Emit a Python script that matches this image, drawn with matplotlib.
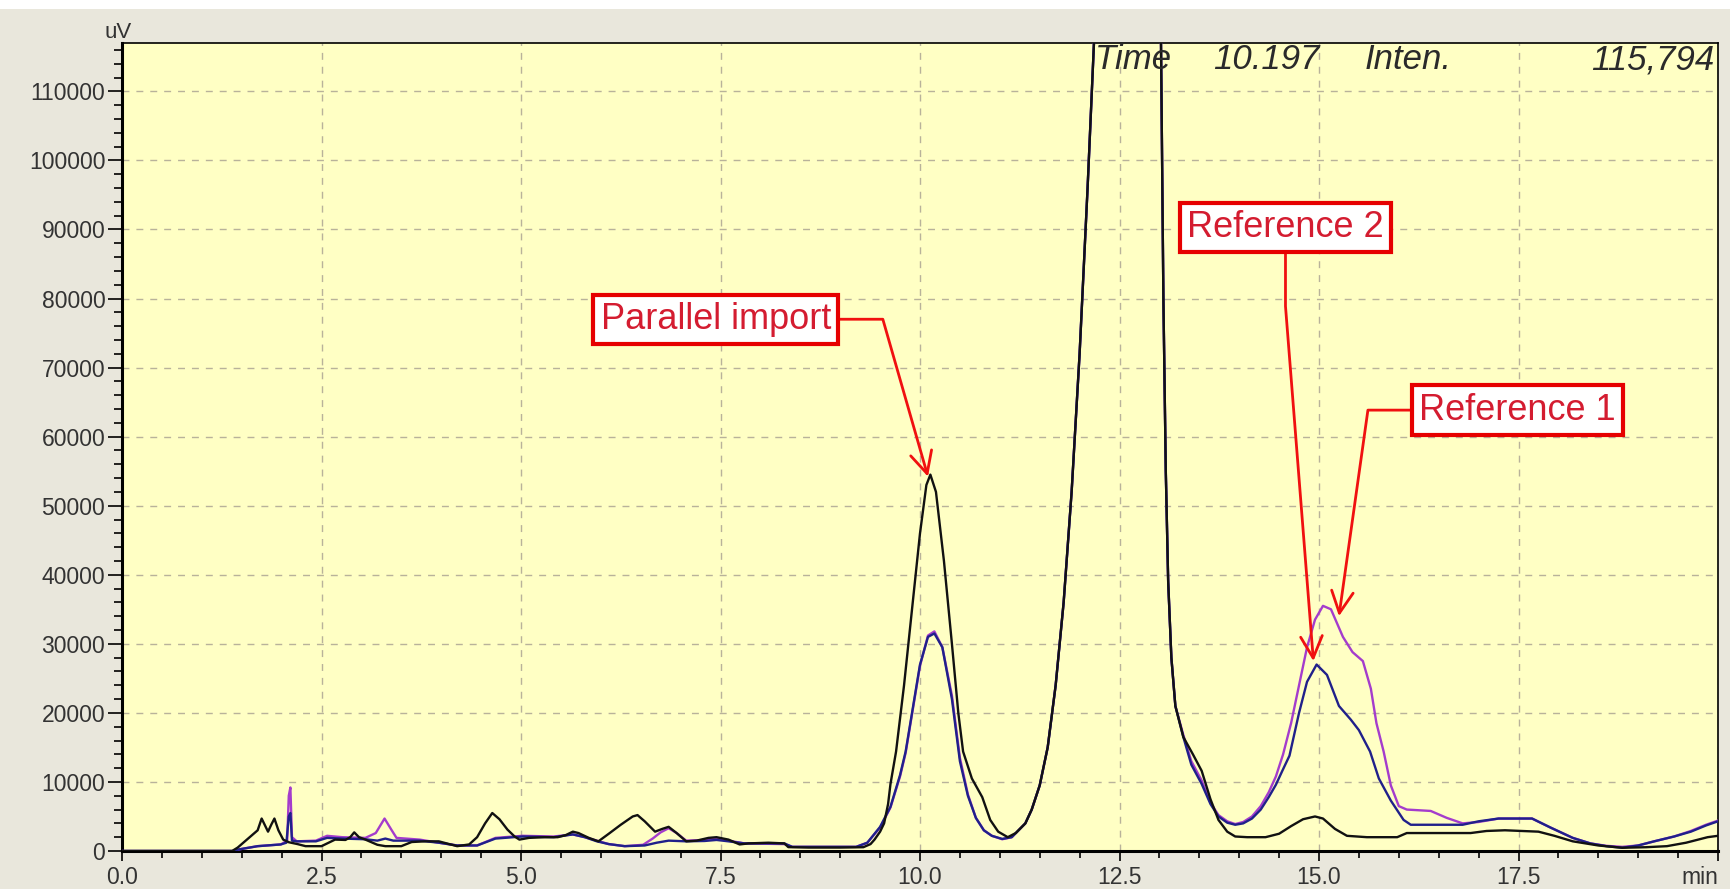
import matplotlib.pyplot as plt
from matplotlib.ticker import MultipleLocator
from matplotlib.patches import Rectangle
import numpy as np

plt.rcParams['font.family'] = ['Liberation Sans', 'DejaVu Sans']

#DATA---------------------------------------------------------
# Parallel import (black trace), before the big peak
black_pre_t = [0.0, 1.38, 1.45, 1.55, 1.62, 1.70, 1.75, 1.80, 1.83, 1.87, 1.91, 1.96, 2.02, 2.09,
               2.20, 2.30, 2.50, 2.67, 2.80, 2.86, 2.91, 2.97, 3.05, 3.20, 3.30, 3.50, 3.63, 3.80,
               3.97, 4.10, 4.20, 4.35, 4.45, 4.55, 4.64, 4.73, 4.83, 4.92, 4.98, 5.10, 5.30, 5.46,
               5.56, 5.65, 5.72, 5.85, 5.97, 6.10, 6.25, 6.40, 6.46, 6.55, 6.68, 6.77, 6.85, 6.95,
               7.07, 7.20, 7.35, 7.45, 7.60, 7.74, 7.85, 8.10, 8.30, 8.35, 8.60, 9.00, 9.29, 9.38,
               9.43, 9.50, 9.55, 9.60, 9.63, 9.70, 9.80, 9.90, 10.00, 10.08, 10.13, 10.20, 10.30,
               10.40, 10.48, 10.54, 10.65, 10.78, 10.88, 10.98, 11.10, 11.20, 11.32]
black_pre_y = [0, 0, 500, 1500, 2200, 3000, 4700, 3500, 2800, 3800, 4700, 3000, 1650, 1270,
               1000, 700, 700, 1650, 1600, 2000, 2700, 2000, 1650, 900, 700, 700, 1300, 1400,
               1400, 1000, 700, 950, 2000, 4000, 5500, 4600, 3100, 2100, 1650, 1900, 2000, 2000,
               2300, 2800, 2600, 1900, 1400, 2500, 3800, 5000, 5200, 4300, 2800, 3200, 3500, 2600,
               1400, 1500, 1900, 2000, 1650, 950, 1100, 1200, 1100, 560, 500, 500, 550, 1000,
               1650, 2800, 4000, 6800, 9700, 14400, 24000, 35000, 46000, 53000, 54500, 52000, 42000,
               30000, 20000, 14400, 10500, 7800, 4500, 2800, 2000, 2600, 4000]
black_post_t = [13.30, 13.42, 13.53, 13.64, 13.74, 13.85, 13.95, 14.10, 14.33, 14.50, 14.65, 14.80,
                14.95, 15.05, 15.20, 15.35, 15.60, 15.98, 16.10, 16.90, 17.10, 17.33, 17.75, 17.95,
                18.18, 18.50, 18.80, 19.10, 19.36, 19.60, 19.87, 20.00]
black_post_y = [16500, 14000, 11600, 7500, 4500, 2800, 2100, 2000, 2000, 2500, 3600, 4600,
                5000, 4700, 3200, 2200, 2000, 2000, 2600, 2600, 2900, 3000, 2800, 2200,
                1400, 800, 470, 550, 700, 1200, 2000, 2200]

# Reference 2 (blue trace)
blue_pre_t = [0.0, 1.40, 1.47, 1.70, 1.99, 2.06, 2.09, 2.11, 2.13, 2.19, 2.43, 2.57, 2.76, 3.05,
              3.20, 3.30, 3.40, 3.73, 3.97, 4.20, 4.45, 4.68, 5.02, 5.41, 5.65, 5.80, 5.95, 6.10,
              6.30, 6.55, 6.70, 6.85, 7.07, 7.30, 7.45, 7.60, 7.80, 8.30, 8.40, 9.20, 9.34, 9.50,
              9.63, 9.75, 9.82, 9.90, 10.00, 10.10, 10.18, 10.28, 10.40, 10.50, 10.60, 10.70,
              10.80, 10.90, 11.03, 11.15, 11.32]
blue_pre_y = [0, 0, 240, 700, 950, 1200, 5000, 5500, 1500, 1400, 1400, 1900, 1800, 1700,
              1500, 1800, 1500, 1500, 1200, 800, 800, 1800, 2100, 2000, 2400, 2000, 1400, 1000,
              700, 800, 1200, 1500, 1400, 1450, 1600, 1400, 1100, 1100, 600, 600, 1200, 3500,
              6400, 11000, 14400, 20000, 27000, 31000, 31500, 29500, 22000, 13000, 8000, 4800,
              3000, 2200, 1750, 2000, 4000]
blue_post_t = [13.30, 13.40, 13.53, 13.64, 13.74, 13.85, 13.95, 14.05, 14.16, 14.27, 14.37, 14.46,
               14.54, 14.63, 14.75, 14.85, 14.97, 15.10, 15.25, 15.40, 15.50, 15.64, 15.75, 15.90,
               16.06, 16.15, 16.50, 16.80, 17.00, 17.25, 17.67, 17.90, 18.18, 18.40, 18.60, 18.80,
               19.00, 19.20, 19.45, 19.66, 19.85, 20.00]
blue_post_y = [16500, 12500, 9700, 6800, 5000, 4100, 3800, 4000, 4700, 6000, 7800, 9600,
               11600, 13800, 20000, 24500, 27000, 25500, 21000, 19000, 17500, 14400, 10500, 7300,
               4500, 3800, 3800, 3800, 4300, 4700, 4700, 3400, 1900, 1100, 700, 470,
               800, 1400, 2100, 2800, 3700, 4300]

# Reference 1 (purple trace)
purple_pre_t = [0.0, 1.40, 1.47, 1.70, 1.99, 2.07, 2.09, 2.11, 2.13, 2.19, 2.43, 2.57, 2.76, 3.05,
                3.18, 3.29, 3.38, 3.44, 3.73, 3.97, 4.20, 4.45, 4.68, 5.02, 5.41, 5.65, 5.80, 5.95,
                6.10, 6.30, 6.53, 6.65, 6.75, 6.85, 6.95, 7.07, 7.30, 7.45, 7.60, 7.80, 8.30, 8.40,
                9.20, 9.34, 9.50, 9.63, 9.75, 9.82, 9.90, 10.00, 10.10, 10.18, 10.28, 10.40, 10.50,
                10.60, 10.70, 10.80, 10.90, 11.03, 11.15, 11.32]
purple_pre_y = [0, 0, 240, 700, 950, 1500, 8000, 9200, 2000, 1400, 1500, 2200, 2000, 1900,
                2600, 4700, 3000, 1900, 1650, 1200, 800, 800, 1900, 2200, 2100, 2400, 2000, 1500,
                1000, 700, 900, 1800, 2700, 3300, 2600, 1500, 1600, 1800, 1500, 1100, 1000, 600,
                600, 1200, 3400, 6300, 10800, 14200, 19800, 26800, 31200, 31800, 29500, 22500, 13500,
                8200, 4800, 3000, 2200, 1700, 2000, 4000]
purple_post_t = [13.30, 13.40, 13.53, 13.64, 13.74, 13.85, 13.95, 14.05, 14.16, 14.27, 14.37, 14.46,
                 14.55, 14.65, 14.75, 14.85, 14.95, 15.05, 15.15, 15.30, 15.42, 15.55, 15.65, 15.72,
                 15.81, 15.90, 16.00, 16.10, 16.40, 16.60, 16.80, 17.00, 17.25, 17.67, 17.90, 18.18,
                 18.40, 18.60, 18.80, 19.00, 19.20, 19.45, 19.66, 19.85, 20.00]
purple_post_y = [16800, 13000, 10200, 7000, 5200, 4300, 3900, 4200, 5000, 6500, 8500, 10800,
                 14000, 18500, 24000, 29500, 33500, 35500, 35000, 31000, 28800, 27500, 23500, 18500,
                 14400, 9500, 6500, 6000, 5800, 4800, 4000, 4200, 4700, 4700, 3400, 1900,
                 1100, 750, 600, 800, 1400, 2100, 2900, 3800, 4400]

# saturated main peak, shared by all three runs
main_peak_t = [11.40, 11.50, 11.60, 11.70, 11.80, 11.90, 12.00, 12.10, 12.18, 12.22, 12.60,
               13.00, 13.02, 13.05, 13.08, 13.11, 13.15, 13.20]
main_peak_y = [6000, 9500, 15000, 24000, 36000, 52000, 72000, 96000, 117000, 130000, 600000,
               130000, 117000, 80000, 55000, 39000, 28000, 21000]

x_ticks = [0.0, 2.5, 5.0, 7.5, 10.0, 12.5, 15.0, 17.5, 20.0]
x_tick_labels = ['0.0', '2.5', '5.0', '7.5', '10.0', '12.5', '15.0', '17.5', 'min']
y_ticks = [0, 10000, 20000, 30000, 40000, 50000, 60000, 70000, 80000, 90000, 100000, 110000]

header_words = ['Time', '10.197', 'Inten.', '115,794']
header_x = [12.19, 13.67, 15.57, 19.96]
header_ha = ['left', 'left', 'left', 'right']

labels = ['Parallel import', 'Reference 2', 'Reference 1']
label_xy = [(7.44, 77000), (14.58, 90300), (17.49, 63840)]
tip_xy = [(10.10, 54200), (14.93, 27500), (15.25, 34000)]
leader_angles = [(0, 106), (-90, 94.5), (180, 82)]

#BUILD SERIES-------------------------------------------------
traces = {
    'Reference 1': (purple_pre_t + main_peak_t + purple_post_t,
                    purple_pre_y + main_peak_y + purple_post_y, '#a43ccc'),
    'Reference 2': (blue_pre_t + main_peak_t + blue_post_t,
                    blue_pre_y + main_peak_y + blue_post_y, '#20208a'),
    'Parallel import': (black_pre_t + main_peak_t + black_post_t,
                        black_pre_y + main_peak_y + black_post_y, '#111111'),
}

#PLOTTING-----------------------------------------------------
fig = plt.figure(figsize=(17.31, 8.89), dpi=100, facecolor='#E9E7DC')
fig.patches.append(Rectangle((0, 1 - 9 / 889), 1, 9 / 889, transform=fig.transFigure,
                             facecolor='white', edgecolor='none'))
ax = fig.add_axes([122 / 1731, 1 - 851 / 889, (1718 - 122) / 1731, (851 - 43) / 889])
ax.set_facecolor('#FFFFC4')

for name, (t, y, color) in traces.items():
    ax.plot(np.array(t), np.array(y), color=color, lw=1.7, zorder=3)

ax.set_xlim(0, 20)
ax.set_ylim(0, 117000)

ax.set_xticks(x_ticks)
ax.set_xticklabels(x_tick_labels)
ax.get_xticklabels()[-1].set_horizontalalignment('right')
ax.set_yticks(y_ticks)
ax.set_yticklabels([str(v) for v in y_ticks])
ax.xaxis.set_minor_locator(MultipleLocator(0.5))
ax.yaxis.set_minor_locator(MultipleLocator(2000))

ax.tick_params(axis='x', which='major', length=7, width=1.2, pad=4, labelsize=16.5, labelcolor='#333333')
ax.tick_params(axis='x', which='minor', length=5, width=1.2)
ax.tick_params(axis='y', which='major', length=10, width=1.2, pad=2, labelsize=16.5, labelcolor='#333333')
ax.tick_params(axis='y', which='minor', length=6, width=1.2)

ax.grid(True, which='major', color='#B8B29A', linestyle=(0, (5, 5)), lw=1.0, zorder=1)

for side in ['left', 'bottom']:
    ax.spines[side].set_linewidth(2.2)
for side in ['top', 'right']:
    ax.spines[side].set_linewidth(1.2)

fig.text(118 / 1731, 1 - 32 / 889, 'uV', ha='center', va='center', fontsize=16, color='#333333')

#HEADER TEXT--------------------------------------------------
for word, x, ha in zip(header_words, header_x, header_ha):
    ax.text(x, 114600, word, ha=ha, va='center', fontsize=25, fontstyle='italic',
            color='#2a2a2a', zorder=5)

#ANNOTATIONS--------------------------------------------------
for label, xy, tip, (a_a, a_b) in zip(labels, label_xy, tip_xy, leader_angles):
    ax.annotate(
        label, xy=tip, xytext=xy, ha='center', va='center',
        fontsize=26, color='#d41c30', zorder=6,
        bbox=dict(boxstyle='square,pad=0.2', facecolor='white', edgecolor='#e60000', lw=3),
        arrowprops=dict(arrowstyle='->,head_length=0.6,head_width=0.3', color='#f01010', lw=2,
                        shrinkA=0, shrinkB=0,
                        connectionstyle=f'angle,angleA={a_a},angleB={a_b},rad=0'))

fig.savefig('out.png', dpi=100, facecolor=fig.get_facecolor())
